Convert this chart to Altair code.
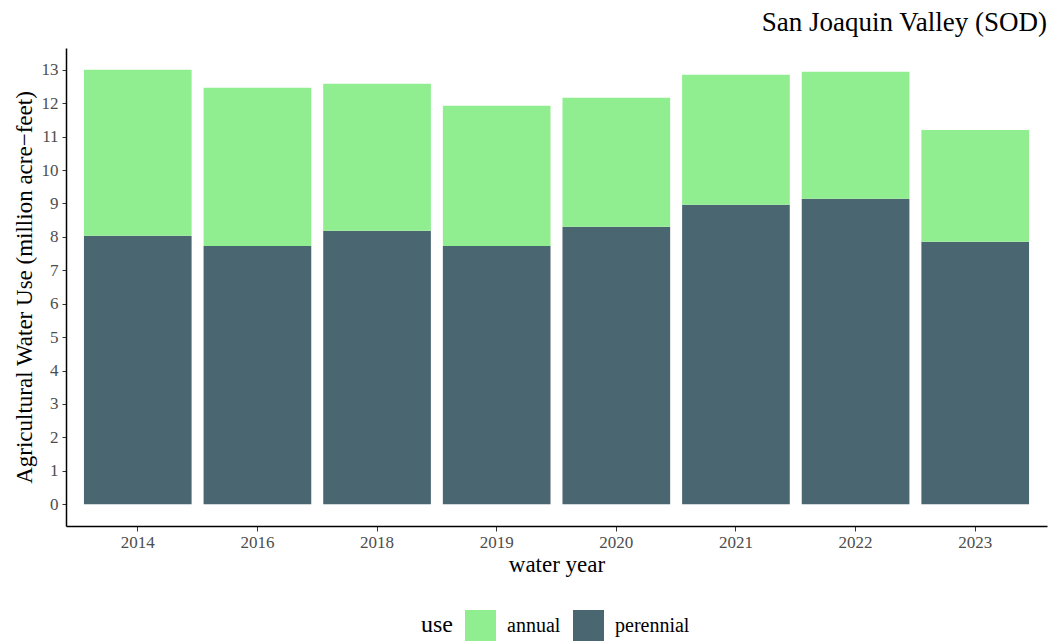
import altair as alt
import pandas as pd

# Agricultural water use by crop type, San Joaquin Valley (million acre-feet)
years = ["2014", "2016", "2018", "2019", "2020", "2021", "2022", "2023"]
perennial = [8.03, 7.73, 8.18, 7.73, 8.30, 8.96, 9.14, 7.85]
annual = [4.97, 4.73, 4.40, 4.19, 3.86, 3.89, 3.80, 3.35]

uses = ["annual", "perennial"]
colors = ["#90EE90", "#4A6671"]

rows = []
for y, p, a in zip(years, perennial, annual):
    rows.append({"year": y, "use": "perennial", "value": p, "stack": 0})
    rows.append({"year": y, "use": "annual", "value": a, "stack": 1})
df = pd.DataFrame(rows)

serif = "Liberation Serif"

chart = (
    alt.Chart(df)
    .mark_bar()
    .encode(
        x=alt.X(
            "year:N",
            title="water year",
            sort=years,
            scale=alt.Scale(paddingInner=0.1, paddingOuter=0.15),
            axis=alt.Axis(
                labelAngle=0,
                labelFontSize=17,
                labelColor="#4D4D4D",
                labelFont=serif,
                labelPadding=3,
                titleFontSize=23,
                titleFont=serif,
                titleFontWeight="normal",
                titleColor="#000000",
                titlePadding=3,
                domainColor="#000000",
                domainWidth=1.5,
                tickColor="#333333",
                tickSize=5,
                grid=False,
            ),
        ),
        y=alt.Y(
            "value:Q",
            title="Agricultural Water Use (million acre\u2212feet)",
            stack="zero",
            scale=alt.Scale(domain=[-0.65, 13.65], nice=False, zero=False),
            axis=alt.Axis(
                values=list(range(0, 14)),
                labelFontSize=17,
                labelColor="#4D4D4D",
                labelFont=serif,
                labelPadding=4,
                titleFontSize=23,
                titleFont=serif,
                titleFontWeight="normal",
                titleColor="#000000",
                titlePadding=5,
                domainColor="#000000",
                domainWidth=1.5,
                tickColor="#333333",
                tickSize=4,
                grid=False,
            ),
        ),
        color=alt.Color(
            "use:N",
            scale=alt.Scale(domain=uses, range=colors),
            legend=alt.Legend(
                title="use",
                orient="none",
                direction="horizontal",
                legendX=355,
                legendY=562,
                titleOrient="left",
                titleFont=serif,
                titleFontSize=24,
                titleFontWeight="normal",
                titleColor="#000000",
                titlePadding=12,
                labelFont=serif,
                labelFontSize=20,
                labelColor="#000000",
                labelOffset=11,
                symbolType="square",
                symbolSize=960,
                symbolStrokeWidth=0,
                symbolOpacity=1,
                columnPadding=12,
            ),
        ),
        order=alt.Order("stack:Q", sort="ascending"),
    )
    .properties(
        width=981,
        height=478,
        title=alt.TitleParams(
            "San Joaquin Valley (SOD)",
            anchor="end",
            font=serif,
            fontSize=27,
            fontWeight="normal",
            color="#000000",
            offset=11,
        ),
        autosize=alt.AutoSizeParams(type="none"),
        padding={"left": 66, "top": 48, "right": 4, "bottom": 117},
    )
    .configure_view(stroke=None)
)

chart.save("out.html", embed_options={"renderer": "svg", "actions": False})
